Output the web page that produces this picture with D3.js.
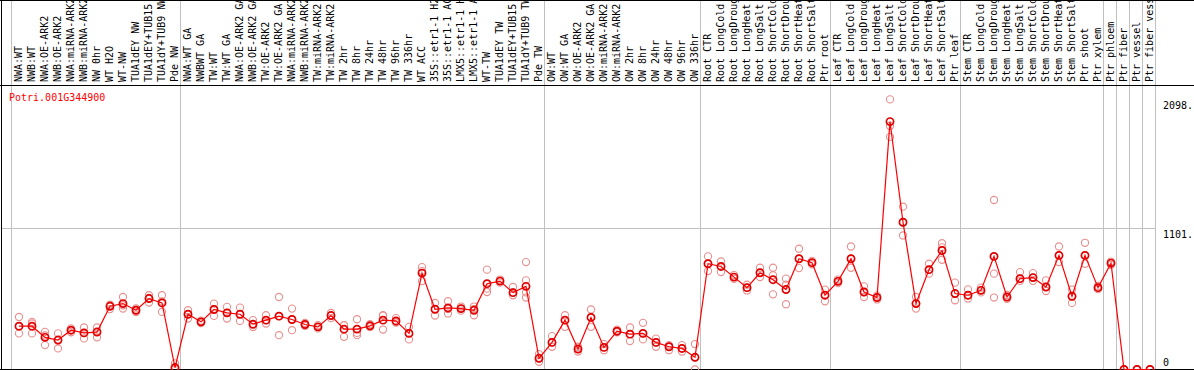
<!DOCTYPE html>
<html>
<head>
<meta charset="utf-8">
<script src="https://cdn.jsdelivr.net/npm/d3@7"></script>
<style>
  body { margin: 0; background: #fff; }
  svg { display: block; }
  text { font-family: "DejaVu Sans Mono", monospace; font-size: 10px; }
</style>
</head>
<body>
<svg id="vis"></svg>
<script>
// sample names, read from the rotated header (long ones get clipped at the top)
const sampleNames = [
  "NWA:WT", "NWB:WT", "NWA:OE-ARK2", "NWB:OE-ARK2", "NWA:miRNA-ARK2", "NWB:miRNA-ARK2",
  "NW 0hr", "WT H2O", "WT-NW", "TUA1dEY NW", "TUA1dEY+TUB15 NW", "TUA1dY+TUB9 NW", "Pde NW",
  "NWA:WT GA", "NWBWT GA", "TW:WT", "TW:WT GA", "NWA:OE-ARK2 GA", "NWB:OE-ARK2 GA",
  "TW:OE-ARK2", "TW:OE-ARK2 GA", "NWA:miRNA-ARK2 GA", "NWB:miRNA-ARK2 GA", "TW:miRNA-ARK2",
  "TW:miRNA-ARK2", "TW 2hr", "TW 8hr", "TW 24hr", "TW 48hr", "TW 96hr", "TW 336hr", "WT ACC",
  "35S::etr1-1 H2O", "35S::etr1-1 ACC", "LMX5::etr1-1 H2O", "LMX5::etr1-1 ACC", "WT-TW",
  "TUA1dEY TW", "TUA1dEY+TUB15 TW", "TUA1dY+TUB9 TW", "Pde TW",
  "OW:WT", "OW:WT GA", "OW:OE-ARK2", "OW:OE-ARK2 GA", "OW:miRNA-ARK2 GA", "OW:miRNA-ARK2",
  "OW 2hr", "OW 8hr", "OW 24hr", "OW 48hr", "OW 96hr", "OW 336hr",
  "Root CTR", "Root LongCold", "Root LongDrought", "Root LongHeat", "Root LongSalt",
  "Root ShortCold", "Root ShortDrought", "Root ShortHeat", "Root ShortSalt", "Ptr root",
  "Leaf CTR", "Leaf LongCold", "Leaf LongDrought", "Leaf LongHeat", "Leaf LongSalt",
  "Leaf ShortCold", "Leaf ShortDrought", "Leaf ShortHeat", "Leaf ShortSalt", "Ptr leaf",
  "Stem CTR", "Stem LongCold", "Stem LongDrought", "Stem LongHeat", "Stem LongSalt",
  "Stem ShortCold", "Stem ShortDrought", "Stem ShortHeat", "Stem ShortSalt", "Ptr shoot",
  "Ptr xylem", "Ptr phloem", "Ptr fiber", "Ptr vessel", "Ptr fiber vessel"
];

// index of the first sample of each experiment block (gray separators)
const groupStarts = [0, 13, 41, 53, 63, 73, 84, 85, 86, 87];

// mean expression per sample
const meanValues = [
  337, 337, 250, 229, 306, 285, 291, 492, 513, 461, 552, 518, 15,
  430, 371, 467, 441, 430, 353, 384, 415, 389, 350, 332, 420, 314, 314, 340, 384, 378, 281,
  750, 469, 479, 474, 461, 668, 688, 598, 647, 87,
  211, 384, 159, 405, 172, 298, 275, 281, 211, 177, 164, 95,
  823, 802, 719, 637, 753, 699, 622, 862, 831, 578,
  686, 862, 603, 560, 1929, 1146, 513, 777, 926, 591,
  578, 616, 880, 564, 707, 715, 642, 888, 570, 888, 637,
  828, 0, 0, 0
];

// replicate values per sample (estimated)
const replicateValues = [
  [409, 337, 281], [371, 358, 281], [293, 265, 190], [281, 229, 164], [320, 290, 306],
  [327, 285, 242], [327, 296, 250], [500, 470, 505], [564, 500, 474], [475, 461, 447],
  [578, 557, 521], [578, 530, 448], [48, 12, 5],
  [461, 430, 397], [380, 371, 362], [513, 470, 417], [487, 440, 397], [482, 430, 378],
  [384, 345, 330], [422, 384, 358], [564, 415, 267], [474, 389, 306], [362, 350, 340],
  [345, 332, 320], [440, 420, 400], [345, 343, 254], [391, 267, 285], [352, 335, 330],
  [422, 311, 420], [400, 370, 365], [332, 281, 234], [797, 766, 688], [518, 469, 420],
  [531, 470, 436], [490, 474, 458], [490, 470, 422], [777, 629, 603], [700, 688, 676],
  [642, 600, 578], [836, 694, 600, 560], [120, 60, 87],
  [260, 211, 177], [422, 384, 332], [177, 159, 140], [467, 405, 332], [198, 172, 150],
  [310, 298, 290], [327, 275, 221], [363, 281, 234], [240, 211, 177], [190, 177, 150],
  [190, 164, 140], [198, 95, 0],
  [880, 823, 766], [841, 802, 758], [735, 719, 705], [660, 637, 615], [792, 753, 720],
  [792, 733, 585], [707, 660, 508], [940, 862, 789], [845, 831, 818], [622, 578, 531],
  [700, 686, 672], [957, 862, 792], [647, 603, 564], [575, 560, 545], [2102, 1895, 1810],
  [1267, 1146, 1043], [564, 513, 474], [823, 777, 746], [983, 950, 854], [676, 591, 539],
  [624, 578, 552], [637, 616, 600], [1319, 746, 560], [580, 564, 550], [758, 707, 690],
  [750, 715, 690], [694, 642, 611], [957, 888, 836], [622, 570, 518], [986, 888, 823],
  [650, 637, 625], [840, 828, 815], [0, 0, 0], [0, 0, 0], [0, 0, 0]
];

const axisValues = [0, 1101, 2098];
const axisLabels = ["0", "1101.", "2098."];
const geneName = "Potri.001G344900";

function main()
{
    const width = 1194;
    const height = 370;
    const headerBottom = 85;   // line under the rotated names

    let svg = d3.select('#vis')
        .attr('width', width)
        .attr('height', height);

    let xScale = d3.scaleBand()
        .domain(d3.range(sampleNames.length))
        .range([11, 11 + 13 * sampleNames.length])
        .paddingInner(0).paddingOuter(0);

    let yScale = d3.scaleLinear()
        .domain([0, 2098])
        .range([369.5, 99.9]);

    const px = i => xScale(i) + 8;

    // clip for header names
    svg.append("clipPath").attr("id", "hdr")
        .append("rect").attr("x", 0).attr("y", 1).attr("width", width).attr("height", headerBottom - 2);

    // gray block separators, full height
    let seps = groupStarts.map(i => xScale(i)).concat([xScale.range()[1]]);
    svg.append("g").selectAll("line")
        .data(seps)
        .enter().append("line")
        .attr("x1", d => Math.round(d) + 0.5).attr("x2", d => Math.round(d) + 0.5)
        .attr("y1", 0).attr("y2", height)
        .attr("stroke", "#c0c0c0");

    // horizontal grid line at the middle tick
    svg.append("line")
        .attr("x1", 1).attr("x2", xScale.range()[1])
        .attr("y1", Math.round(yScale(1101)) + 0.5).attr("y2", Math.round(yScale(1101)) + 0.5)
        .attr("stroke", "#c0c0c0");

    // frame
    const frame = svg.append("g").attr("stroke", "#000");
    frame.append("line").attr("x1", 0).attr("x2", width).attr("y1", 0.5).attr("y2", 0.5);
    frame.append("line").attr("x1", 0).attr("x2", width).attr("y1", headerBottom + 0.5).attr("y2", headerBottom + 0.5);
    frame.append("line").attr("x1", 0).attr("x2", width).attr("y1", 369.5).attr("y2", 369.5);
    frame.append("line").attr("x1", 1.5).attr("x2", 1.5).attr("y1", 0).attr("y2", height);

    // rotated sample names
    svg.append("g").attr("clip-path", "url(#hdr)")
        .selectAll("text")
        .data(sampleNames)
        .enter().append("text")
        .attr("transform", (d, i) => "translate(" + (xScale(i) + 11) + "," + (headerBottom - 3) + ") rotate(-90)")
        .attr("fill", "#000")
        .text(d => d);

    // gene name
    svg.append("text")
        .attr("x", 9).attr("y", 101)
        .attr("fill", "#ff0000")
        .text(geneName);

    // right axis labels
    svg.append("g").selectAll("text")
        .data(axisValues)
        .enter().append("text")
        .attr("x", 1163)
        .attr("y", d => Math.min(yScale(d) + 9.5, 366))
        .attr("fill", "#000")
        .text((d, i) => axisLabels[i]);

    // replicates
    let reps = [];
    replicateValues.forEach((arr, i) => arr.forEach(v => reps.push({i: i, v: v})));
    svg.append("g").selectAll("circle")
        .data(reps)
        .enter().append("circle")
        .attr("cx", d => px(d.i))
        .attr("cy", d => yScale(d.v))
        .attr("r", 3.6)
        .attr("fill", "none")
        .attr("stroke", "#e98f8f")
        .attr("stroke-width", 1.1);

    // mean line
    let line = d3.line()
        .x((d, i) => px(i))
        .y(d => yScale(d));
    svg.append("path")
        .datum(meanValues)
        .attr("d", line)
        .attr("fill", "none")
        .attr("stroke", "#ff0000")
        .attr("stroke-width", 1.2);

    // means
    svg.append("g").selectAll("circle")
        .data(meanValues)
        .enter().append("circle")
        .attr("cx", (d, i) => px(i))
        .attr("cy", d => yScale(d))
        .attr("r", 3.6)
        .attr("fill", "none")
        .attr("stroke", "#e00000")
        .attr("stroke-width", 1.7);
}

main();
</script>
</body>
</html>
